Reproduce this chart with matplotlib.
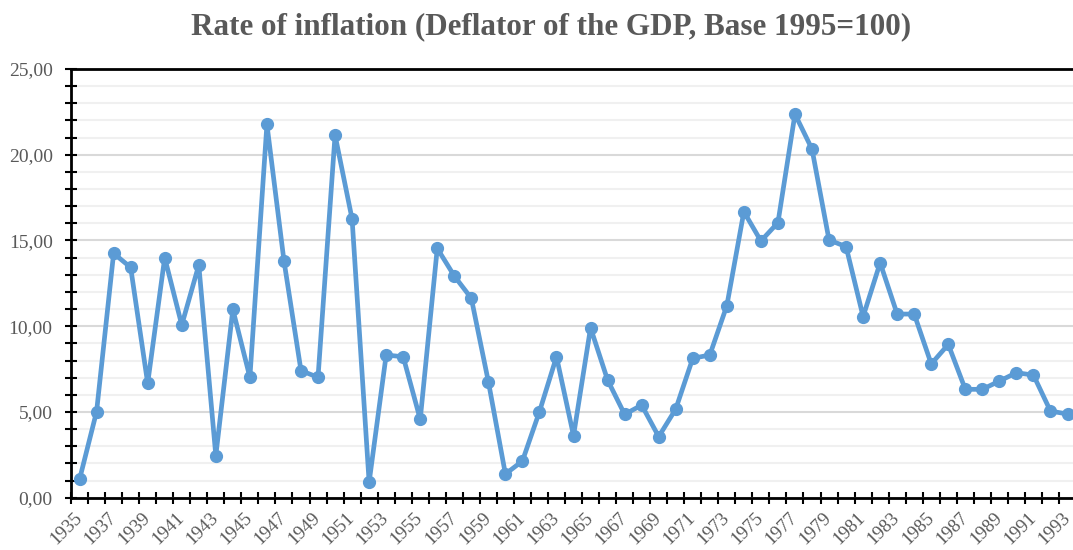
import numpy as np
import matplotlib
matplotlib.use("Agg")
import matplotlib.pyplot as plt
from matplotlib.ticker import FixedLocator, MultipleLocator, FuncFormatter

# ── Data ──────────────────────────────────────────────────────────────
years = list(range(1935, 1994))
inflation = [
    1.07, 5.02, 14.25, 13.43, 6.67, 14.00, 10.07, 13.57, 2.45, 10.98,
    7.02, 21.77, 13.82, 7.41, 7.02, 21.15, 16.25, 0.90, 8.32, 8.22,
    4.57, 14.54, 12.93, 11.63, 6.77, 1.38, 2.14, 5.02, 8.22, 3.62,
    9.91, 6.86, 4.86, 5.40, 3.56, 5.17, 8.13, 8.32, 11.20, 16.68,
    14.97, 16.04, 22.37, 20.33, 15.03, 14.64, 10.56, 13.70, 10.71, 10.71,
    7.80, 8.94, 6.32, 6.32, 6.80, 7.29, 7.15, 5.05, 4.88,
]
year_labels = [str(y) if (y - 1935) % 2 == 0 else "" for y in years]

TITLE = "Rate of inflation (Deflator of the GDP, Base 1995=100)"
LINE_COLOR = "#5B9BD5"
TEXT_COLOR = "#595959"
SERIF = ["Liberation Serif", "DejaVu Serif"]

# ── Figure ────────────────────────────────────────────────────────────
fig = plt.figure(figsize=(10.73, 5.5), dpi=100)
ax = fig.add_axes([0.0662, 0.0951, 1005 / 1073, 0.7794])

x = np.arange(len(years))
ax.plot(x, inflation, color=LINE_COLOR, linewidth=3.4,
        marker="o", markersize=8.5, zorder=3, clip_on=False)

ax.set_xlim(-0.5, len(years) - 0.5)
ax.set_ylim(0, 25)

# grid: major every 5, minor every 1
ax.yaxis.set_major_locator(MultipleLocator(5))
ax.yaxis.set_minor_locator(MultipleLocator(1))
ax.grid(axis="y", which="major", color="#d9d9d9", linewidth=1.5, zorder=0)
ax.grid(axis="y", which="minor", color="#f0f0f0", linewidth=1.5, zorder=0)
ax.set_axisbelow(True)

ax.yaxis.set_major_formatter(FuncFormatter(lambda v, _: f"{v:.2f}".replace(".", ",")))

# x: tick marks on category boundaries, labels on category centers
ax.xaxis.set_major_locator(FixedLocator(np.arange(-0.5, len(years), 1.0)))
ax.xaxis.set_major_formatter(FuncFormatter(lambda v, _: ""))
ax.xaxis.set_minor_locator(FixedLocator(x))
ax.set_xticklabels(year_labels, minor=True)

ax.tick_params(axis="x", which="major", direction="inout", length=8.5,
               width=1.5, color="black")
ax.tick_params(axis="x", which="minor", length=0, pad=13)
ax.tick_params(axis="y", which="both", direction="inout", length=8.5,
               width=1.5, color="black")
ax.tick_params(axis="y", which="major", pad=9)

for lab in ax.get_xticklabels(minor=True):
    lab.set_rotation(45)
    lab.set_ha("right")
    lab.set_va("center")
    lab.set_rotation_mode("anchor")
    lab.set_fontfamily(SERIF)
    lab.set_fontsize(13.5)
    lab.set_color(TEXT_COLOR)
for lab in ax.get_yticklabels():
    lab.set_fontfamily(SERIF)
    lab.set_fontsize(14)
    lab.set_color(TEXT_COLOR)

for side in ("left", "bottom", "top"):
    ax.spines[side].set_color("black")
    ax.spines[side].set_linewidth(2)
ax.spines["right"].set_visible(False)

fig.text(0.514, 0.951, TITLE, ha="center", va="center",
         fontsize=22.4, fontweight="bold", family=SERIF, color=TEXT_COLOR)

fig.savefig("out.png", dpi=100)
